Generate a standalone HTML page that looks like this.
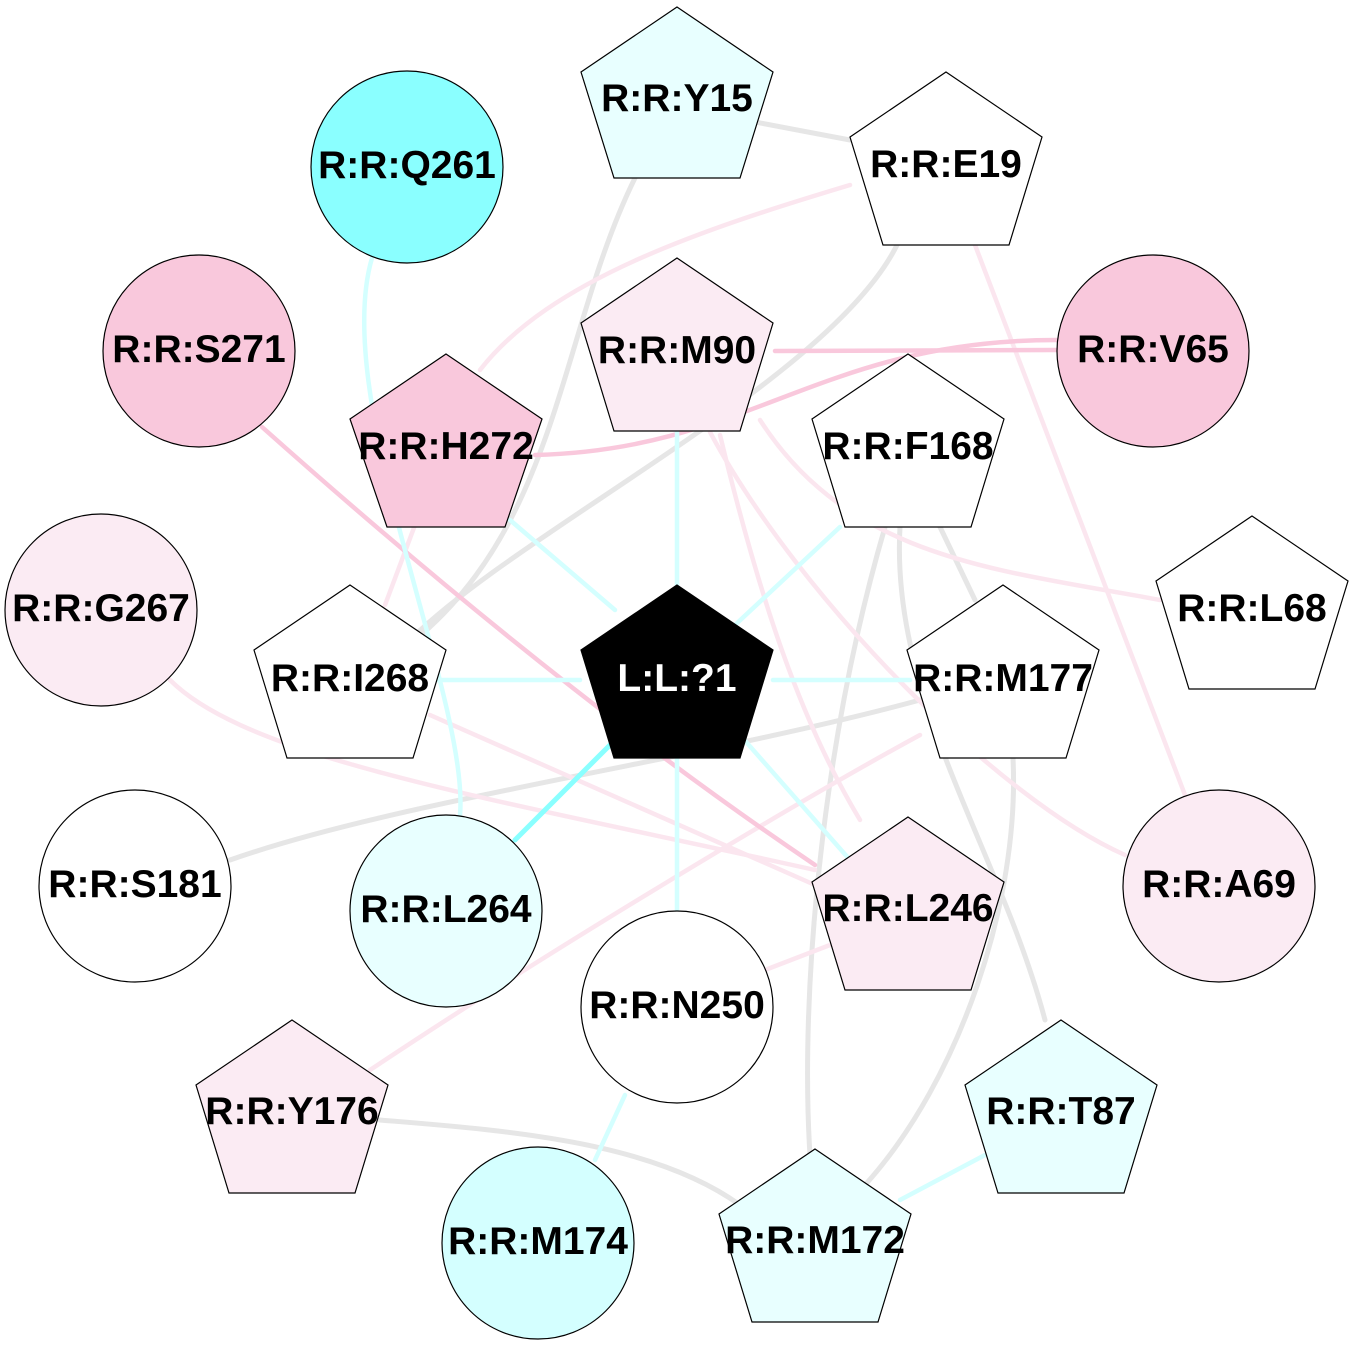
<!DOCTYPE html>
<html><head><meta charset="utf-8"><style>html,body{margin:0;padding:0;background:#fff}svg{display:block}</style></head>
<body>
<svg width="1354" height="1345" viewBox="0 0 1354 1345" xmlns="http://www.w3.org/2000/svg">
<g fill="none" stroke-linecap="round">
<g stroke="#e6e6e6" stroke-width="5">
<path d="M755,122 L850,140"/>
<path d="M635,178 C560,330 560,520 415,640"/>
<path d="M897,245 C830,380 520,530 410,640"/>
<path d="M940,527 L975,600"/>
<path d="M885,527 C820,750 800,1000 810,1155"/>
<path d="M900,527 C890,700 1000,850 1045,1020"/>
<path d="M1013,758 C1020,900 960,1080 865,1185"/>
<path d="M920,700 C700,760 400,800 230,860"/>
<path d="M380,1120 C500,1130 650,1140 740,1205"/>
</g>
<g stroke="#fbe6ef" stroke-width="4.5">
<path d="M850,185 C700,230 550,280 480,370"/>
<path d="M975,245 L1185,795"/>
<path d="M760,420 C850,560 1000,570 1160,600"/>
<path d="M710,432 C800,600 1000,800 1125,855"/>
<path d="M720,435 C760,600 800,720 860,820"/>
<path d="M415,525 L385,605"/>
<path d="M170,680 C250,760 500,800 815,870"/>
<path d="M430,715 L815,885"/>
<path d="M370,1070 C550,950 800,800 920,735"/>
<path d="M765,970 L830,945"/>
</g>
<g stroke="#f9c8dc" stroke-width="4.5">
<path d="M775,351 L1057,350"/>
<path d="M535,455 C750,450 820,340 1057,340"/>
<path d="M262,427 C400,550 600,720 815,865"/>
</g>
<g stroke="#d4ffff" stroke-width="4.5">
<path d="M677,432 L677,585"/>
<path d="M510,520 L615,610"/>
<path d="M840,527 L735,625"/>
<path d="M430,680 L580,680"/>
<path d="M773,680 L910,680"/>
<path d="M677,758 L677,912"/>
<path d="M740,735 L850,860"/>
<path d="M372,258 C330,400 470,700 460,815"/>
<path d="M625,1095 L595,1160"/>
<path d="M985,1155 L900,1200"/>
</g>
<path d="M615,740 L515,840" stroke="#8affff" stroke-width="5"/>
</g>
<g stroke="#000" stroke-width="1.2">
<circle cx="407" cy="167" r="96" fill="#8affff"/>
<circle cx="199" cy="351" r="96" fill="#f9c8dc"/>
<circle cx="1153" cy="351" r="96" fill="#f9c8dc"/>
<circle cx="101" cy="610" r="96" fill="#fbebf3"/>
<circle cx="135" cy="886" r="96" fill="#fff"/>
<circle cx="446" cy="911" r="96" fill="#e8ffff"/>
<circle cx="1219" cy="886" r="96" fill="#fbebf3"/>
<circle cx="677" cy="1007" r="96" fill="#fff"/>
<circle cx="538" cy="1243" r="96" fill="#d4ffff"/>
</g>
<g stroke="#000" stroke-width="1.2">
<polygon fill="#e8ffff" points="677,7 773,72 740,178 614,178 581,72"/>
<polygon fill="#fff" points="946,72 1042,137 1009,245 883,245 850,137"/>
<polygon fill="#fbebf3" points="677,258 773,323 740,431 614,431 581,323"/>
<polygon fill="#f9c8dc" points="446,354 542,419 505,527 387,527 350,419"/>
<polygon fill="#fff" points="908,354 1004,419 971,527 845,527 812,419"/>
<polygon fill="#fff" points="350,585 446,650 413,758 287,758 254,650"/>
<polygon fill="#fff" points="1252,516 1348,581 1315,689 1189,689 1156,581"/>
<polygon fill="#000" points="677,585 773,650 740,758 614,758 581,650"/>
<polygon fill="#fff" points="1003,585 1099,650 1066,758 940,758 907,650"/>
<polygon fill="#fbebf3" points="908,817 1004,882 971,990 845,990 812,882"/>
<polygon fill="#fbebf3" points="292,1020 388,1085 355,1193 229,1193 196,1085"/>
<polygon fill="#e8ffff" points="1061,1020 1157,1085 1124,1193 998,1193 965,1085"/>
<polygon fill="#e8ffff" points="815,1149 911,1214 878,1322 752,1322 719,1214"/>
</g>
<g font-family="Liberation Sans, Arial, sans-serif" font-weight="bold" font-size="39" text-anchor="middle">
<text x="677" y="111">R:R:Y15</text>
<text x="946" y="177">R:R:E19</text>
<text x="407" y="178">R:R:Q261</text>
<text x="199" y="362">R:R:S271</text>
<text x="677" y="363">R:R:M90</text>
<text x="1153" y="362">R:R:V65</text>
<text x="446" y="459">R:R:H272</text>
<text x="908" y="459">R:R:F168</text>
<text x="101" y="621">R:R:G267</text>
<text x="350" y="691">R:R:I268</text>
<text x="1252" y="621">R:R:L68</text>
<text x="677" y="691" fill="#fff">L:L:?1</text>
<text x="1003" y="691">R:R:M177</text>
<text x="135" y="897">R:R:S181</text>
<text x="446" y="922">R:R:L264</text>
<text x="908" y="921">R:R:L246</text>
<text x="1219" y="897">R:R:A69</text>
<text x="677" y="1018">R:R:N250</text>
<text x="292" y="1124">R:R:Y176</text>
<text x="1061" y="1124">R:R:T87</text>
<text x="538" y="1254">R:R:M174</text>
<text x="815" y="1253">R:R:M172</text>
</g>
</svg>
</body></html>
